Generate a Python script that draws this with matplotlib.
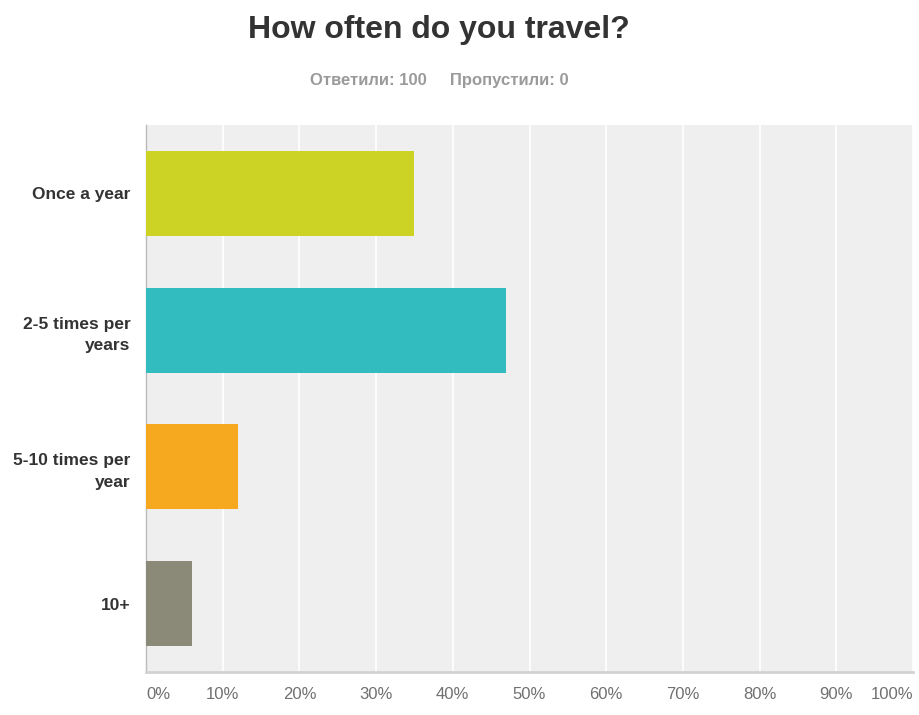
import matplotlib.pyplot as plt

categories = ['Once a year', '2-5 times per\nyears', '5-10 times per\nyear', '10+']
percents = [35, 47, 12, 6]
bar_colors = ['#cdd325', '#33bcbf', '#f6a91f', '#8b8a79']
tick_values = [0, 10, 20, 30, 40, 50, 60, 70, 80, 90, 100]
tick_labels = ['%d%%' % v for v in tick_values]

plt.rcParams['font.family'] = ['Liberation Sans', 'DejaVu Sans']

fig = plt.figure(figsize=(9.2, 7.15), dpi=100)
ax = fig.add_axes([0.1587, 0.0601, 0.8337, 0.7651])
ax.set_facecolor('#efefef')

y = list(range(len(categories)))
ax.barh(y, percents, height=0.62, color=bar_colors, zorder=3)

ax.set_xlim(0, 100)
ax.set_ylim(len(categories) - 0.5, -0.5)
ax.set_yticks(y)
ax.set_yticklabels(categories, fontsize=12.5, fontweight='bold', color='#333333',
                   linespacing=1.55)
ax.set_xticks(tick_values)
ax.set_xticklabels(tick_labels, fontsize=12, color='#707070')
# keep the end labels inside the plot edges
labels = ax.get_xticklabels()
labels[0].set_horizontalalignment('left')
labels[-1].set_horizontalalignment('right')
ax.tick_params(axis='both', length=0)
ax.tick_params(axis='x', pad=11)
ax.tick_params(axis='y', pad=11)

ax.grid(axis='x', color='white', linewidth=1.2, zorder=1)
for side in ['top', 'right']:
    ax.spines[side].set_visible(False)
ax.spines['left'].set_color('#bbbbbb')
ax.spines['left'].set_linewidth(1)
ax.spines['bottom'].set_color('#d2d2d2')
ax.spines['bottom'].set_linewidth(2)

fig.text(0.477, 0.958, 'How often do you travel?', ha='center', va='center',
         fontsize=23, fontweight='bold', color='#333333')
fig.text(0.477, 0.888, 'Ответили: 100     Пропустили: 0', ha='center',
         va='center', fontsize=12, fontweight='bold', color='#9a9a9a')

fig.savefig('out.png', dpi=100)
